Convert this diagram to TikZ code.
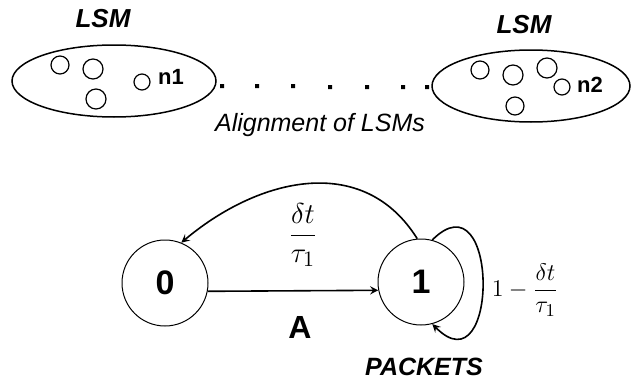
\documentclass[tikz,border=0pt]{standalone}
\usepackage{fontspec}
\setsansfont{Liberation Sans}
\usetikzlibrary{arrows}
\usepgflibrary{shapes.geometric}

\tikzset{
    lsm/.style = {draw, ellipse, line width=0.75pt, minimum height=36pt},
    state/.style = {draw, circle, line width=0.5pt, minimum size=43pt, inner sep=0pt,
        font=\sffamily\bfseries\fontsize{17}{17}\selectfont},
    neuron/.style = {line width=0.6pt},
    trans/.style = {->, >=stealth, line width=0.8pt}
}

\begin{document}
\begin{tikzpicture}[x=0.5pt, y=-0.5pt, font=\sffamily]
        \useasboundingbox (0,0) rectangle (631,380);

        % the two liquid state machines
        \node[lsm, minimum width=102pt] (lsmA) at (114,81) {};
        \node[lsm, minimum width=99pt] (lsmB) at (531,86) {};
        \node[anchor=base, font=\sffamily\bfseries\itshape\fontsize{13}{13}\selectfont] (lsmAtitle) at (103,27) {LSM};
        \node[anchor=base, font=\sffamily\bfseries\itshape\fontsize{13}{13}\selectfont] (lsmBtitle) at (524,33) {LSM};
        \draw[neuron] (60,65) circle (4.5pt) (93,69) circle (5pt) (142,82) circle (4pt) (96,99) circle (5pt);
        \draw[neuron] (480,70) circle (4.5pt) (513,75) circle (5pt) (547,68) circle (5pt)
            (562,87) circle (4pt) (515,106) circle (4.5pt);
        \node[anchor=base, font=\sffamily\bfseries\fontsize{11}{11}\selectfont] (nA) at (171,84) {n1};
        \node[anchor=base, font=\sffamily\bfseries\fontsize{11}{11}\selectfont] (nB) at (590,92) {n2};

        \fill (220,84) rectangle +(4,4) (255,84) rectangle +(4,4) (291,84) rectangle +(4,4)
            (328,85) rectangle +(4,4) (365,85) rectangle +(4,4) (401,85) rectangle +(4,4)
            (425,85) rectangle +(4,4);
        \node[anchor=base, font=\sffamily\itshape\fontsize{12.5}{12.5}\selectfont] (align) at (320,131) {Alignment of LSMs};

        % two state chain
        \node[state] (s0) at (165,283) {0};
        \node[state] (s1) at (421,282) {1};
        \draw[trans] (s0.-11) -- (s1.191);
        \draw[trans] (s1.95) to[out=122, in=40, looseness=1.1] (s0.68);
        \draw[trans] (s1.75) to[out=45, in=-45, looseness=2.9] (s1.-75);

        \node[anchor=base, font=\sffamily\bfseries\fontsize{16}{16}\selectfont] (lblA) at (300,338) {A};
        \node[font=\fontsize{15}{15}\selectfont] (rate) at (303,235) {$\displaystyle\frac{\delta t}{\tau_1}$};
        \node[font=\fontsize{13}{13}\selectfont] (stay) at (525,290) {$\displaystyle 1-\frac{\delta t}{\tau_1}$};
        \node[anchor=base, font=\sffamily\bfseries\itshape\fontsize{12.5}{12.5}\selectfont] (pkt) at (424,375) {PACKETS};
\end{tikzpicture}
\end{document}
